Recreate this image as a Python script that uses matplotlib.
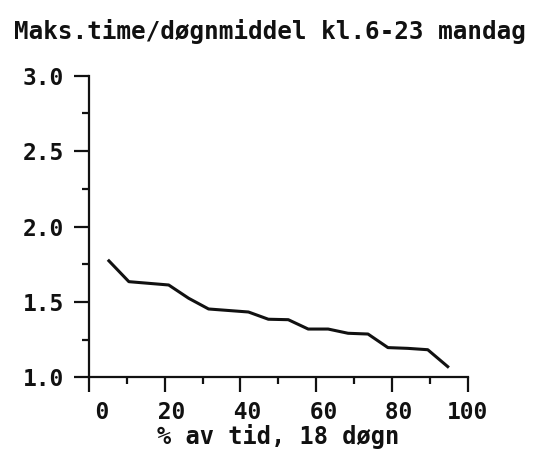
import matplotlib.pyplot as plt
from matplotlib.ticker import MultipleLocator

# percent of time (plotting positions for 18 days) and max hour / daily mean
pct_tid = [5.26, 10.53, 15.79, 21.05, 26.32, 31.58, 36.84, 42.11, 47.37,
           52.63, 57.89, 63.16, 68.42, 73.68, 78.95, 84.21, 89.47, 94.74]
maks_forhold = [1.773, 1.635, 1.624, 1.613, 1.525, 1.454, 1.444, 1.434, 1.386,
                1.383, 1.321, 1.321, 1.293, 1.288, 1.198, 1.193, 1.184, 1.072]

x_ticks = [0, 20, 40, 60, 80, 100]
y_ticks = [1.0, 1.5, 2.0, 2.5, 3.0]

title = "Maks.time/døgnmiddel kl.6-23 mandag"
xlabel = "% av tid, 18 døgn"

ink = "#111111"
mono = {"family": "DejaVu Sans Mono", "weight": "bold"}

fig = plt.figure(figsize=(5.4, 4.53), dpi=100)
ax = fig.add_axes([0.1648, 0.1667, 0.7012, 0.6662])

ax.plot(pct_tid, maks_forhold, color=ink, lw=2.2, solid_joinstyle="round")

ax.set_xlim(0, 100)
ax.set_ylim(1.0, 3.0)
for s in ("top", "right"):
    ax.spines[s].set_visible(False)
for s in ("left", "bottom"):
    ax.spines[s].set_color(ink)
    ax.spines[s].set_linewidth(1.6)

ax.set_xticks(x_ticks)
ax.set_xticklabels([f"{v:3d}" for v in x_ticks], fontsize=16.5, **mono)
ax.set_yticks(y_ticks)
ax.set_yticklabels([f"{v:.1f}" for v in y_ticks], fontsize=16.5, **mono)
ax.xaxis.set_minor_locator(MultipleLocator(10))
ax.yaxis.set_minor_locator(MultipleLocator(0.25))
ax.tick_params(which="major", direction="out", length=11, width=1.6, color=ink,
               labelcolor=ink)
ax.tick_params(which="minor", direction="out", length=5, width=1.6, color=ink)
ax.tick_params(axis="x", which="major", pad=6)
ax.tick_params(axis="y", which="major", pad=7)

ax.set_xlabel(xlabel, fontsize=17, color=ink, labelpad=0, **mono)

fig.text(14 / 540, 1 - 31 / 453, title, fontsize=17.5, color=ink,
         ha="left", va="center", **mono)

fig.savefig("out.png", dpi=100, facecolor="white")
